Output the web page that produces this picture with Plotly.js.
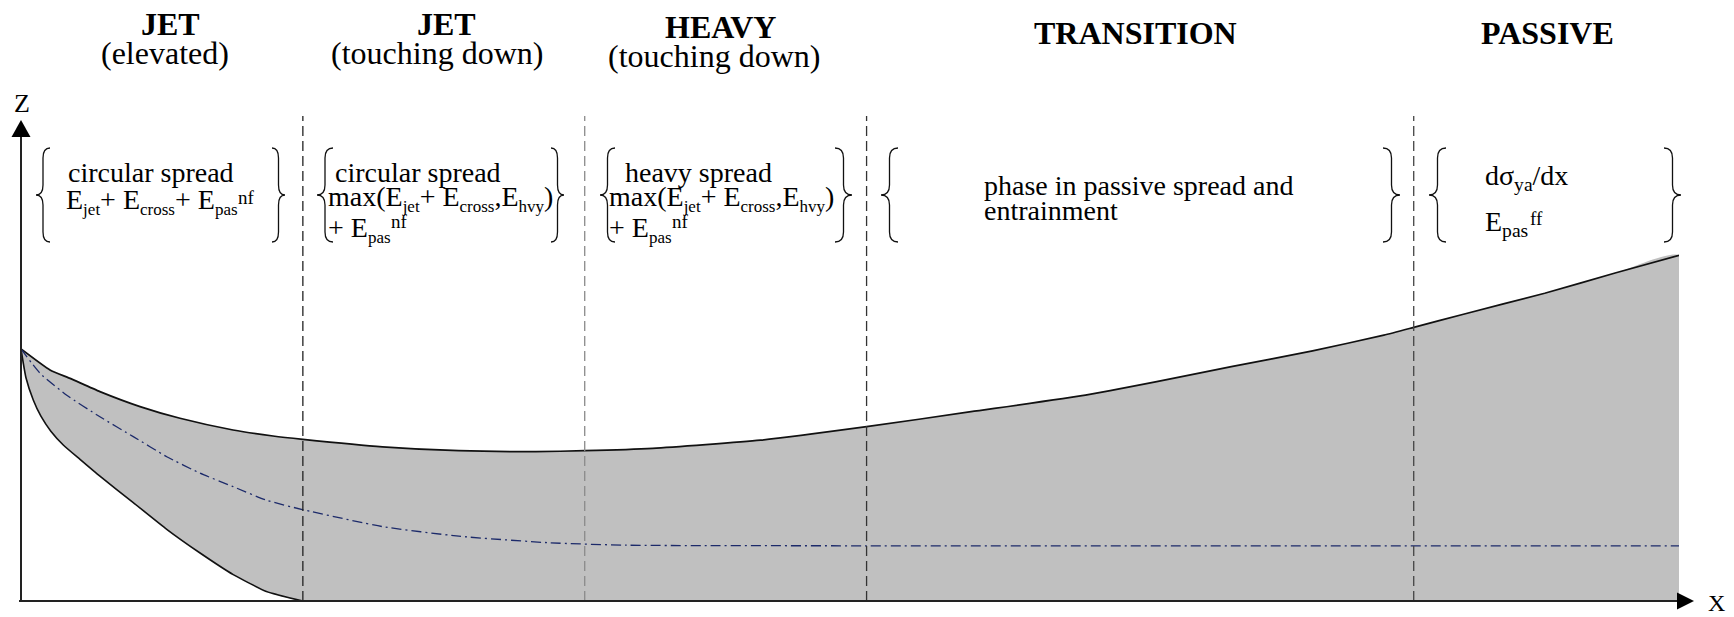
<!DOCTYPE html>
<html>
<head>
<meta charset="utf-8">
<script src="https://cdn.plot.ly/plotly-3.0.1.min.js"></script>
<style>html,body{margin:0;padding:0;background:#fff;}#chart{width:1734px;height:617px;}</style>
</head>
<body>
<div id="chart"></div>
<script>
// ---- data (x: downwind distance, 0..100 ; z: height) ----
const upperX = [0, 1.75, 2.96, 4.76, 7.18, 9.59, 12.79, 15.2, 17.0, 21.8, 26.4, 31.05, 34.0, 38.1, 44.6, 51.0, 57.3, 64.2, 68.5, 73.0, 77.9, 82.2, 84.0, 87.0, 91.9, 96.2, 100];
const upperZ = [42.0, 38.5, 37.1, 34.9, 32.4, 30.45, 28.5, 27.5, 26.95, 25.7, 25.05, 24.9, 25.05, 25.45, 26.8, 29.05, 31.55, 34.3, 36.55, 39.05, 41.7, 44.3, 45.6, 47.8, 51.3, 54.7, 57.6];
const lowerX = [0, 0.3, 0.74, 1.2, 1.8, 2.55, 3.56, 4.76, 6.77, 8.79, 10.8, 12.8, 14.8, 17.0];
const lowerZ = [42.0, 37.2, 33.5, 30.8, 28.3, 26.0, 23.6, 20.8, 16.4, 11.95, 8.0, 4.4, 1.6, 0];
const centreX = [0, 1.15, 2.76, 4.76, 6.77, 8.79, 10.8, 12.8, 14.8, 17.03, 21.8, 26.4, 31.9, 36.5, 51.0, 100];
const centreZ = [42.0, 37.95, 34.3, 30.7, 27.4, 24.05, 21.3, 19.05, 16.8, 15.2, 12.4, 10.8, 9.7, 9.3, 9.2, 9.2];
const phaseBounds = [17, 34, 51, 84];
const phaseBoundColors = ['#222', '#8a8a8a', '#333', '#444'];
const phaseTitles = ['JET', 'JET', 'HEAVY', 'TRANSITION', 'PASSIVE'];
const phaseSubtitles = ['(elevated)', '(touching down)', '(touching down)', '', ''];

// ---- layout geometry (pixels) ----
const FW = 1734, FH = 617;
const L = 21, R = 1679, T = 1, B = 601;
const px = p => (p - L) / (R - L);
const py = p => (B - p) / (B - T);

const serif = 'Liberation Serif, Times New Roman, serif';

// polygon for grey zone
const polyX = upperX.concat([100], lowerX.slice().reverse());
const polyZ = upperZ.concat([0], lowerZ.slice().reverse());

const traces = [
  {x: polyX, y: polyZ, mode: 'lines', fill: 'toself', fillcolor: '#c0c0c0', line: {width: 0, color: '#c0c0c0', shape: 'spline', smoothing: 0.5}, hoverinfo: 'skip', showlegend: false},
  {x: upperX, y: upperZ, mode: 'lines', line: {color: '#111', width: 1.7, shape: 'spline', smoothing: 0.5}, showlegend: false},
  {x: lowerX, y: lowerZ, mode: 'lines', line: {color: '#111', width: 1.6, shape: 'spline', smoothing: 0.5}, showlegend: false},
  {x: centreX, y: centreZ, mode: 'lines', line: {color: '#1c2a6a', width: 1.3, dash: '10px,4px,2px,4px', shape: 'spline', smoothing: 0.5}, showlegend: false}
];

const shapes = [];
// phase boundaries
phaseBounds.forEach((b, i) => {
  shapes.push({type: 'line', xref: 'x', yref: 'paper', x0: b, x1: b, y0: 0, y1: py(116),
    line: {color: phaseBoundColors[i], width: 1.3, dash: '10px,5px'}});
});
// axes
shapes.push({type: 'line', xref: 'paper', yref: 'paper', x0: px(19), x1: px(1678), y0: py(601), y1: py(601), line: {color: '#222', width: 2}});
shapes.push({type: 'line', xref: 'paper', yref: 'paper', x0: px(21), x1: px(21), y0: py(602), y1: py(136), line: {color: '#222', width: 2}});
function tri(a, b, c) {
  return {type: 'path', xref: 'paper', yref: 'paper', fillcolor: '#000', line: {width: 0},
    path: `M ${px(a[0])} ${py(a[1])} L ${px(b[0])} ${py(b[1])} L ${px(c[0])} ${py(c[1])} Z`};
}
shapes.push(tri([21, 120], [11.5, 137], [30.5, 137]));
shapes.push(tri([1694, 601], [1677, 592.5], [1677, 609.5]));

// braces
function brace(xc, xh, yt, yb) {
  const ym = (yt + yb) / 2, xm = (xc + xh) / 2, r = 10;
  const P = (x, y) => `${px(x)},${py(y)}`;
  const d = `M ${P(xh, yt)} Q ${P(xm, yt)} ${P(xm, yt + r)} L ${P(xm, ym - r)} Q ${P(xm, ym)} ${P(xc, ym)} ` +
            `Q ${P(xm, ym)} ${P(xm, ym + r)} L ${P(xm, yb - r)} Q ${P(xm, yb)} ${P(xh, yb)}`;
  return {type: 'path', xref: 'paper', yref: 'paper', path: d, line: {color: '#111', width: 1.3}};
}
const braceY = [148, 242];
[[36, 50, 285, 272], [317, 333, 564, 551], [600, 615, 852, 835], [881, 898, 1400, 1383], [1429, 1446, 1681, 1664]]
  .forEach(b => { shapes.push(brace(b[0], b[1], braceY[0], braceY[1])); shapes.push(brace(b[2], b[3], braceY[0], braceY[1])); });

// annotations
const ann = [];
function txt(text, x, y, size, anchor, bold) {
  ann.push({xref: 'paper', yref: 'paper', x: px(x), y: py(y), text: bold ? '<b>' + text + '</b>' : text,
    showarrow: false, xanchor: anchor || 'left', yanchor: 'middle',
    font: {family: serif, size: size, color: '#000'}});
}
const sub = s => '<sub><span style="font-size:17px">' + s + '</span></sub>';
const titleX = [170, 446, 720, 1135, 1547];
const titleY = [24, 24, 27, 33, 33];
const subX = [165, 437, 714];
phaseTitles.forEach((t, i) => {
  txt(t, titleX[i], titleY[i], 32, 'center', true);
  if (phaseSubtitles[i]) txt(phaseSubtitles[i], subX[i], titleY[i] + 29, 32, 'center', false);
});
txt('Z', 22, 104, 26, 'center');
txt('X', 1716, 603, 24, 'center');

// bracket contents
txt('circular spread', 66, 173, 28);
txt('E' + sub('jet') + '+ E' + sub('cross') + '+ E' + sub('pas'), 64, 201, 28);
txt('nf', 236, 197, 19);
txt('circular spread', 333, 173, 28);
txt('max(E' + sub('jet') + '+ E' + sub('cross') + ',E' + sub('hvy') + ')', 326, 199, 28);
txt('+ E' + sub('pas'), 326, 229, 28);
txt('nf', 389, 221, 19);
txt('heavy spread', 623, 173, 28);
txt('max(E' + sub('jet') + '+ E' + sub('cross') + ',E' + sub('hvy') + ')', 607, 199, 28);
txt('+ E' + sub('pas'), 607, 229, 28);
txt('nf', 670, 221, 19);
txt('phase in passive spread and', 982, 185, 28);
txt('entrainment', 982, 210, 28);
txt('dσ<sub>ya</sub>/dx', 1483, 177, 28);
txt('E<sub>pas</sub>', 1483, 223, 28);
txt('ff', 1528, 218, 19);

const layout = {
  width: FW, height: FH,
  margin: {l: L, r: FW - R, t: T, b: FH - B, pad: 0},
  paper_bgcolor: '#fff', plot_bgcolor: '#fff',
  xaxis: {range: [0, 100], visible: false, fixedrange: true},
  yaxis: {range: [0, 100], visible: false, fixedrange: true},
  shapes: shapes, annotations: ann, showlegend: false
};
Plotly.newPlot('chart', traces, layout, {staticPlot: true, displayModeBar: false});
</script>
</body>
</html>
